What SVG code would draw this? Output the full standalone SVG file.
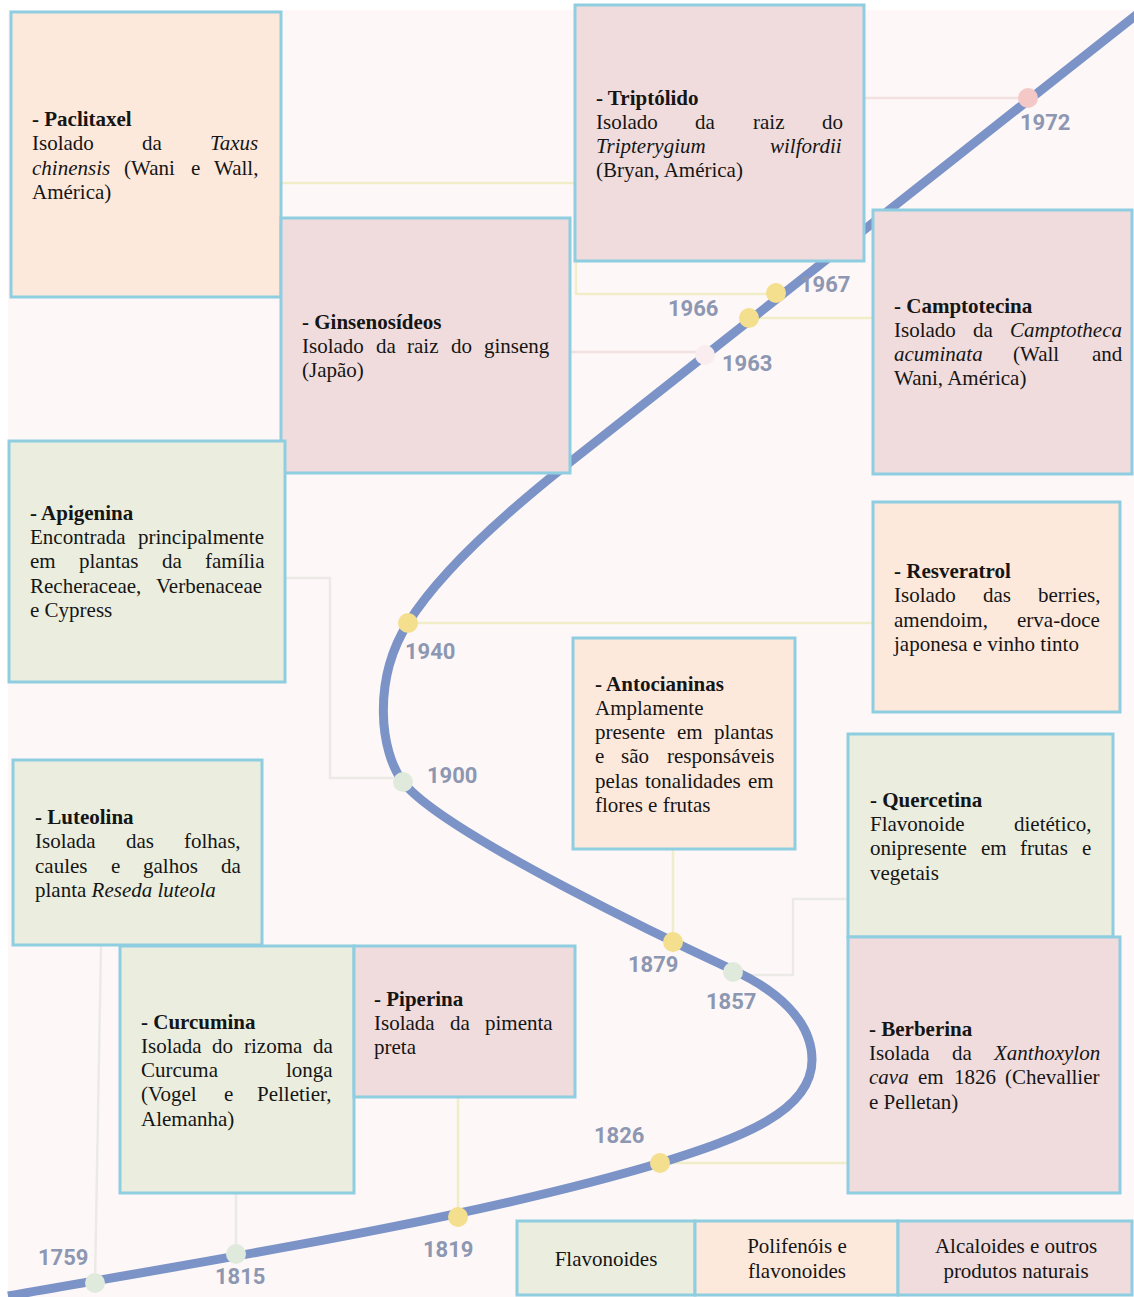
<svg xmlns="http://www.w3.org/2000/svg" width="1134" height="1297" viewBox="0 0 1134 1297">
<style>
.bg{fill:#fdf8f7}
.box{stroke:#8fcde0;stroke-width:3}
.pe{fill:#fde9dc}
.pk{fill:#f0dcdc}
.gr{fill:#ebeedf}
.t{font-family:"Liberation Serif","Times New Roman",serif;font-size:21px;fill:#151515}
.b{font-weight:bold}
.i{font-style:italic}
.lg{font-family:"Liberation Serif","Times New Roman",serif;font-size:21px;fill:#151515;text-anchor:middle}
.yr{font-family:Roboto,"Liberation Sans",sans-serif;font-size:22px;font-weight:bold;fill:#8d97b2}
.cy{fill:none;stroke:#f1edc8;stroke-width:2.5}
.cp{fill:none;stroke:#f3e0e0;stroke-width:2.5}
.cg{fill:none;stroke:#ebeae6;stroke-width:2.5}
.curve{fill:none;stroke:#7c93c8;stroke-width:9}
.dy{fill:#f4df8e}
.dg{fill:#e0eadc}
.dp{fill:#f5c8c8}
.dw{fill:#f9edf0}
</style>
<rect x="0" y="0" width="1134" height="1297" fill="#ffffff"/>
<rect class="bg" x="8" y="10" width="1126" height="1287"/>

<g id="connectors">
<polyline class="cy" points="281,183 576,183 576,294 776,294"/>
<line class="cp" x1="864" y1="98" x2="1028" y2="98"/>
<line class="cy" x1="749" y1="318" x2="873" y2="318"/>
<line class="cp" x1="570" y1="352" x2="705" y2="352"/>
<line class="cy" x1="408" y1="623" x2="873" y2="623"/>
<polyline class="cg" points="285,578 330,578 330,778 403,778"/>
<line class="cy" x1="673" y1="849" x2="673" y2="942"/>
<polyline class="cg" points="733,975 793,975 793,899 848,899"/>
<line class="cy" x1="660" y1="1163" x2="848" y2="1163"/>
<line class="cy" x1="458" y1="1097" x2="458" y2="1217"/>
<line class="cg" x1="236" y1="1193" x2="236" y2="1254"/>
<line class="cg" x1="101" y1="945" x2="95" y2="1283"/>
</g>

<g id="timeline">
<path class="curve" d="M8,1296 C200,1262 470,1220 660,1163 C740,1138 812,1112 812,1060 C812,1020 776,990 733,970 C690,950 443,834 403,782 C380,752 372,680 408,623 C438,575 500,518 560,470 L1140,12"/>
<circle class="dp" cx="1028" cy="98" r="10"/>
<circle class="dy" cx="776" cy="293" r="10"/>
<circle class="dy" cx="749" cy="318" r="10"/>
<circle class="dw" cx="705" cy="355" r="10"/>
<circle class="dy" cx="408" cy="623" r="10"/>
<circle class="dg" cx="403" cy="782" r="10"/>
<circle class="dy" cx="673" cy="942" r="10"/>
<circle class="dg" cx="733" cy="972" r="10"/>
<circle class="dy" cx="660" cy="1163" r="10"/>
<circle class="dy" cx="458" cy="1217" r="10"/>
<circle class="dg" cx="236" cy="1254" r="10"/>
<circle class="dg" cx="95" cy="1283" r="10"/>
<text class="yr" x="1020" y="130">1972</text>
<text class="yr" x="800" y="292">1967</text>
<text class="yr" x="668" y="316">1966</text>
<text class="yr" x="722" y="371">1963</text>
<text class="yr" x="405" y="659">1940</text>
<text class="yr" x="427" y="783">1900</text>
<text class="yr" x="628" y="972">1879</text>
<text class="yr" x="706" y="1009">1857</text>
<text class="yr" x="594" y="1143">1826</text>
<text class="yr" x="423" y="1257">1819</text>
<text class="yr" x="215" y="1284">1815</text>
<text class="yr" x="38" y="1265">1759</text>
</g>

<g id="paclitaxel">
<rect class="box pe" x="11" y="12" width="270" height="285"/>
<text class="t b" x="32" y="126">- Paclitaxel</text>
<text class="t" y="150"><tspan x="32">Isolado</tspan><tspan x="142">da</tspan><tspan x="210" class="i">Taxus</tspan></text>
<text class="t" y="175"><tspan x="32" class="i">chinensis</tspan><tspan x="124">(Wani</tspan><tspan x="191">e</tspan><tspan x="214">Wall,</tspan></text>
<text class="t" x="32" y="199">América)</text>
</g>

<g id="triptolido">
<rect class="box pk" x="575" y="5" width="289" height="256"/>
<text class="t b" x="596" y="105">- Triptólido</text>
<text class="t" y="129"><tspan x="596">Isolado</tspan><tspan x="695">da</tspan><tspan x="753">raiz</tspan><tspan x="822">do</tspan></text>
<text class="t i" y="153"><tspan x="596">Tripterygium</tspan><tspan x="770">wilfordii</tspan></text>
<text class="t" x="596" y="177">(Bryan, América)</text>
</g>

<g id="ginsenosideos">
<rect class="box pk" x="281" y="218" width="289" height="255"/>
<text class="t b" x="302" y="329">- Ginsenosídeos</text>
<text class="t" y="353"><tspan x="302">Isolado</tspan><tspan x="376">da</tspan><tspan x="407">raiz</tspan><tspan x="451">do</tspan><tspan x="484">ginseng</tspan></text>
<text class="t" x="302" y="377">(Japão)</text>
</g>

<g id="camptotecina">
<rect class="box pk" x="873" y="210" width="259" height="264"/>
<text class="t b" x="894" y="313">- Camptotecina</text>
<text class="t" y="337"><tspan x="894">Isolado</tspan><tspan x="973">da</tspan><tspan x="1010" class="i">Camptotheca</tspan></text>
<text class="t" y="361"><tspan x="894" class="i">acuminata</tspan><tspan x="1013">(Wall</tspan><tspan x="1092">and</tspan></text>
<text class="t" x="894" y="385">Wani, América)</text>
</g>

<g id="apigenina">
<rect class="box gr" x="9" y="441" width="276" height="241"/>
<text class="t b" x="30" y="520">- Apigenina</text>
<text class="t" y="544"><tspan x="30">Encontrada</tspan><tspan x="138">principalmente</tspan></text>
<text class="t" y="568"><tspan x="30">em</tspan><tspan x="79">plantas</tspan><tspan x="162">da</tspan><tspan x="205">família</tspan></text>
<text class="t" y="593"><tspan x="30">Recheraceae,</tspan><tspan x="156">Verbenaceae</tspan></text>
<text class="t" x="30" y="617">e Cypress</text>
</g>

<g id="resveratrol">
<rect class="box pe" x="873" y="502" width="247" height="210"/>
<text class="t b" x="894" y="578">- Resveratrol</text>
<text class="t" y="602"><tspan x="894">Isolado</tspan><tspan x="983">das</tspan><tspan x="1038">berries,</tspan></text>
<text class="t" y="627"><tspan x="894">amendoim,</tspan><tspan x="1017">erva-doce</tspan></text>
<text class="t" x="894" y="651">japonesa e vinho tinto</text>
</g>

<g id="antocianinas">
<rect class="box pe" x="573" y="638" width="222" height="211"/>
<text class="t b" x="595" y="691">- Antocianinas</text>
<text class="t" x="595" y="715">Amplamente</text>
<text class="t" y="739"><tspan x="595">presente</tspan><tspan x="677">em</tspan><tspan x="714">plantas</tspan></text>
<text class="t" y="763"><tspan x="595">e</tspan><tspan x="621">são</tspan><tspan x="667">responsáveis</tspan></text>
<text class="t" y="788"><tspan x="595">pelas</tspan><tspan x="645">tonalidades</tspan><tspan x="748">em</tspan></text>
<text class="t" x="595" y="812">flores e frutas</text>
</g>

<g id="luteolina">
<rect class="box gr" x="13" y="760" width="249" height="185"/>
<text class="t b" x="35" y="824">- Luteolina</text>
<text class="t" y="848"><tspan x="35">Isolada</tspan><tspan x="126">das</tspan><tspan x="184">folhas,</tspan></text>
<text class="t" y="873"><tspan x="35">caules</tspan><tspan x="111">e</tspan><tspan x="143">galhos</tspan><tspan x="221">da</tspan></text>
<text class="t" y="897"><tspan x="35">planta </tspan><tspan class="i">Reseda luteola</tspan></text>
</g>

<g id="quercetina">
<rect class="box gr" x="848" y="734" width="265" height="203"/>
<text class="t b" x="870" y="807">- Quercetina</text>
<text class="t" y="831"><tspan x="870">Flavonoide</tspan><tspan x="1014">dietético,</tspan></text>
<text class="t" y="855"><tspan x="870">onipresente</tspan><tspan x="981">em</tspan><tspan x="1020">frutas</tspan><tspan x="1082">e</tspan></text>
<text class="t" x="870" y="880">vegetais</text>
</g>

<g id="berberina">
<rect class="box pk" x="848" y="937" width="272" height="256"/>
<text class="t b" x="869" y="1036">- Berberina</text>
<text class="t" y="1060"><tspan x="869">Isolada</tspan><tspan x="952">da</tspan><tspan x="994" class="i">Xanthoxylon</tspan></text>
<text class="t" y="1084"><tspan x="869" class="i">cava</tspan><tspan x="918">em</tspan><tspan x="954">1826</tspan><tspan x="1005">(Chevallier</tspan></text>
<text class="t" x="869" y="1109">e Pelletan)</text>
</g>

<g id="curcumina">
<rect class="box gr" x="120" y="946" width="234" height="247"/>
<text class="t b" x="141" y="1029">- Curcumina</text>
<text class="t" y="1053"><tspan x="141">Isolada</tspan><tspan x="212">do</tspan><tspan x="244">rizoma</tspan><tspan x="313">da</tspan></text>
<text class="t" y="1077"><tspan x="141">Curcuma</tspan><tspan x="286">longa</tspan></text>
<text class="t" y="1101"><tspan x="141">(Vogel</tspan><tspan x="224">e</tspan><tspan x="257">Pelletier,</tspan></text>
<text class="t" x="141" y="1126">Alemanha)</text>
</g>

<g id="piperina">
<rect class="box pk" x="354" y="946" width="221" height="151"/>
<text class="t b" x="374" y="1006">- Piperina</text>
<text class="t" y="1030"><tspan x="374">Isolada</tspan><tspan x="450">da</tspan><tspan x="485">pimenta</tspan></text>
<text class="t" x="374" y="1054">preta</text>
</g>

<g id="legend">
<rect class="box gr" x="517" y="1221" width="178" height="74"/>
<rect class="box pe" x="695" y="1221" width="203" height="74"/>
<rect class="box pk" x="898" y="1221" width="234" height="74"/>
<text class="lg" x="606" y="1266">Flavonoides</text>
<text class="lg" x="797" y="1253">Polifenóis e</text>
<text class="lg" x="797" y="1278">flavonoides</text>
<text class="lg" x="1016" y="1253">Alcaloides e outros</text>
<text class="lg" x="1016" y="1278">produtos naturais</text>
</g>
</svg>
